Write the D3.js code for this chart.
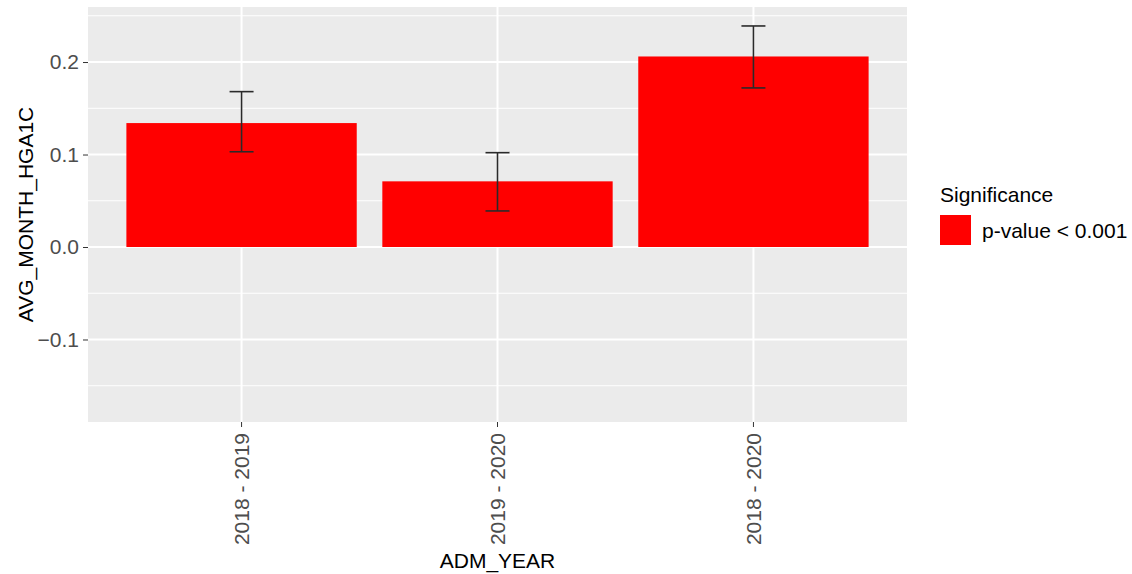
<!DOCTYPE html>
<html><head><meta charset="utf-8">
<script src="https://cdn.jsdelivr.net/npm/d3@7"></script>
<style>body{margin:0;background:#fff}svg{font-family:"Liberation Sans",Arial,sans-serif}</style>
</head><body>
<svg id="c" width="1132" height="574"></svg>
<script>
const categories = ["2018 - 2019", "2019 - 2020", "2018 - 2020"];
const values = [0.134, 0.071, 0.206];
const errLow = [0.103, 0.039, 0.172];
const errHigh = [0.168, 0.102, 0.239];
const yTicks = [-0.1, 0.0, 0.1, 0.2];
const yMinor = [-0.15, -0.05, 0.05, 0.15, 0.25];
const legendTitle = "Significance";
const legendLabel = "p-value < 0.001";

const svg = d3.select("#c");
const L = 88, R = 907, T = 7, B = 422;
const x = d3.scaleBand().domain(categories).range([L, R]).paddingInner(0.1).paddingOuter(0.15);
const y = d3.scaleLinear().domain([-0.1892, 0.2595]).range([B, T]);

svg.append("rect").attr("x", L).attr("y", T).attr("width", R - L).attr("height", B - T).attr("fill", "#ebebeb");
const g = svg.append("g");
g.selectAll(".minor").data(yMinor).join("line").attr("x1", L).attr("x2", R)
  .attr("y1", d => y(d)).attr("y2", d => y(d)).attr("stroke", "#fff").attr("stroke-width", 1);
g.selectAll(".major").data(yTicks).join("line").attr("x1", L).attr("x2", R)
  .attr("y1", d => y(d)).attr("y2", d => y(d)).attr("stroke", "#fff").attr("stroke-width", 2);
g.selectAll(".vx").data(categories).join("line")
  .attr("x1", d => x(d) + x.bandwidth() / 2).attr("x2", d => x(d) + x.bandwidth() / 2)
  .attr("y1", T).attr("y2", B).attr("stroke", "#fff").attr("stroke-width", 2);

svg.selectAll(".bar").data(categories).join("rect")
  .attr("x", d => x(d)).attr("width", x.bandwidth())
  .attr("y", (d, i) => y(Math.max(0, values[i])))
  .attr("height", (d, i) => Math.abs(y(values[i]) - y(0)))
  .attr("fill", "#ff0000");

const eb = svg.append("g").attr("stroke", "#2a2a2a").attr("stroke-width", 1.6);
categories.forEach((c, i) => {
  const cx = x(c) + x.bandwidth() / 2;
  eb.append("line").attr("x1", cx).attr("x2", cx).attr("y1", y(errLow[i])).attr("y2", y(errHigh[i]));
  eb.append("line").attr("x1", cx - 12).attr("x2", cx + 12).attr("y1", y(errLow[i])).attr("y2", y(errLow[i]));
  eb.append("line").attr("x1", cx - 12).attr("x2", cx + 12).attr("y1", y(errHigh[i])).attr("y2", y(errHigh[i]));
});

const yAxis = svg.append("g").attr("transform", `translate(${L},0)`)
  .call(d3.axisLeft(y).tickValues(yTicks).tickSize(5).tickPadding(4)
    .tickFormat(d => d < 0 ? "\u2212" + Math.abs(d).toFixed(1) : d.toFixed(1)));
yAxis.select(".domain").remove();
yAxis.selectAll("line").attr("stroke", "#333");
yAxis.selectAll("text").attr("fill", "#4d4d4d").style("font-size", "21px");

const xAxis = svg.append("g").attr("transform", `translate(0,${B})`)
  .call(d3.axisBottom(x).tickSize(5).tickPadding(3));
xAxis.select(".domain").remove();
xAxis.selectAll("line").attr("stroke", "#333");
xAxis.selectAll("text").attr("fill", "#4d4d4d").style("font-size", "21px")
  .attr("transform", "rotate(-90)").attr("text-anchor", "end")
  .attr("x", -11).attr("y", 0).attr("dy", "0.36em");

svg.append("text").attr("x", (L + R) / 2).attr("y", 568).attr("text-anchor", "middle")
  .style("font-size", "21px").attr("fill", "#000").text("ADM_YEAR");
svg.append("text").attr("transform", `translate(33,${(T + B) / 2}) rotate(-90)`)
  .attr("text-anchor", "middle").style("font-size", "21px").attr("fill", "#000").text("AVG_MONTH_HGA1C");

svg.append("text").attr("x", 940).attr("y", 202).style("font-size", "21px").attr("fill", "#000").text(legendTitle);
svg.append("rect").attr("x", 940).attr("y", 215).attr("width", 31).attr("height", 30).attr("fill", "#ff0000");
svg.append("text").attr("x", 982).attr("y", 238).style("font-size", "21px").attr("fill", "#000").text(legendLabel);
</script>
</body></html>
